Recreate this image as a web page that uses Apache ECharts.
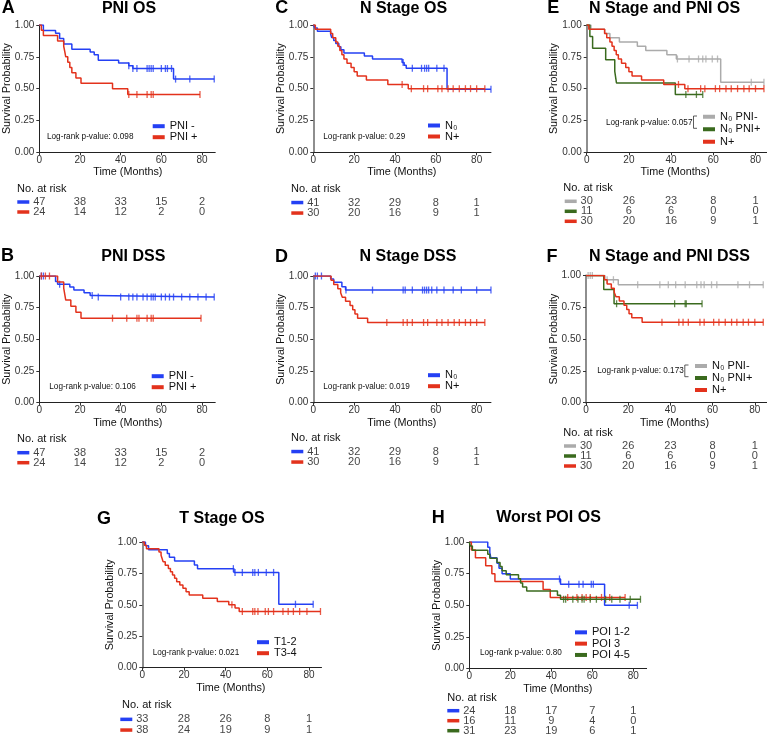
<!DOCTYPE html>
<html>
<head>
<meta charset="utf-8">
<script src="https://cdn.jsdelivr.net/npm/echarts@6.0.0/dist/echarts.min.js"></script>
<style>html,body{margin:0;padding:0;background:#fff;}#chart{width:767px;height:736px;}</style>
</head>
<body>
<div id="chart"></div>
<script>
// ===================== DATA =====================
const xTickValues = [0, 20, 40, 60, 80];
const riskTimes = [0, 20, 40, 60, 80];
const panelTitles = ['PNI OS', 'PNI DSS', 'N Stage OS', 'N Stage DSS', 'N Stage and PNI OS', 'N Stage and PNI DSS', 'T Stage OS', 'Worst POI OS'];
const panelLetters = ['A', 'B', 'C', 'D', 'E', 'F', 'G', 'H'];
const pValues = ['0.098', '0.106', '0.29', '0.019', '0.057', '0.173', '0.021', '0.80'];

// A: PNI OS
const pniNegOS_t = [0, 2, 8, 10, 12, 16, 25, 27, 29, 39, 44, 46, 66];
const pniNegOS_s = [1, 0.957, 0.936, 0.894, 0.851, 0.809, 0.787, 0.766, 0.723, 0.702, 0.68, 0.658, 0.575];
const pniNegOS_cens = [44, 46, 48, 53, 54, 55, 56, 60, 62, 63, 65, 67, 74, 86];
const pniPosOS_t = [0, 1, 2, 9, 12, 12.5, 13, 14, 15, 16, 18, 20.5, 36, 43.5];
const pniPosOS_s = [1, 0.958, 0.917, 0.875, 0.833, 0.792, 0.75, 0.708, 0.667, 0.625, 0.583, 0.542, 0.5, 0.455];
const pniPosOS_cens = [44, 48, 53, 55, 56, 79];

// B: PNI DSS
const pniNegDSS_t = [0, 8, 9, 15, 17, 22, 25, 27];
const pniNegDSS_s = [1, 0.957, 0.935, 0.913, 0.89, 0.868, 0.846, 0.834];
const pniNegDSS_cens = [1, 2, 10, 26, 29, 40, 44, 46, 48, 51, 53, 55, 56, 57, 60, 62, 64, 66, 70, 74, 78, 82, 86];
const pniPosDSS_t = [0, 9, 12, 12.5, 13, 15.5, 18, 20.5];
const pniPosDSS_s = [1, 0.952, 0.905, 0.857, 0.81, 0.762, 0.714, 0.667];
const pniPosDSS_cens = [1, 3, 5, 36, 43, 48, 49, 53, 55, 56, 79.5];

// C: N stage OS
const n0OS_t = [0, 0.8, 2, 8.5, 9, 10, 11, 12.5, 13.5, 15, 25, 29, 43.5, 44.5, 45.5, 65.5];
const n0OS_s = [1, 0.976, 0.951, 0.927, 0.902, 0.878, 0.854, 0.829, 0.805, 0.78, 0.756, 0.732, 0.705, 0.683, 0.66, 0.495];
const n0OS_cens = [44, 48.5, 53, 54.5, 55.5, 56.5, 60.5, 64, 87];
const nPlusOS_t = [0, 1, 8.5, 9.5, 11, 12, 13, 14, 15, 16.5, 18.5, 20, 21.5, 26, 36.5, 46.5];
const nPlusOS_s = [1, 0.967, 0.933, 0.9, 0.867, 0.833, 0.8, 0.767, 0.733, 0.7, 0.667, 0.633, 0.6, 0.567, 0.533, 0.5];
const nPlusOS_cens = [43.5, 48, 54, 56, 61, 63, 66, 68.5, 71.5, 74.5, 77, 80, 84];

// D: N stage DSS
const n0DSS_t = [0, 8.5, 10, 14, 15.8];
const n0DSS_s = [1, 0.976, 0.951, 0.915, 0.889];
const n0DSS_cens = [1, 2, 4, 16, 29, 44, 45, 48.5, 53.5, 54.5, 55.5, 56.5, 58, 60.5, 64, 68.5, 72.5, 80, 87];
const nPlusDSS_t = [0, 8.7, 10, 12, 13.4, 14.2, 15.8, 18, 19.3, 20.4, 21.7, 26.6];
const nPlusDSS_s = [1, 0.967, 0.933, 0.9, 0.867, 0.833, 0.8, 0.767, 0.733, 0.7, 0.667, 0.633];
const nPlusDSS_cens = [36, 44, 46, 48.5, 54, 56, 60.5, 63, 66, 69, 71.5, 74.5, 77, 80, 84];

// E: N stage and PNI OS
const n0PniNegOS_t = [0, 2, 8.5, 11, 15.5, 24, 28, 38, 42.5, 63.5];
const n0PniNegOS_s = [1, 0.967, 0.933, 0.9, 0.867, 0.833, 0.8, 0.767, 0.733, 0.55];
const n0PniNegOS_cens = [43, 48.5, 53, 55, 56.5, 59.5, 62, 78, 84];
const n0PniPosOS_t = [0, 1.5, 2.8, 9, 13.3, 14.1, 42];
const n0PniPosOS_s = [1, 0.909, 0.818, 0.727, 0.636, 0.545, 0.4545];
const n0PniPosOS_cens = [47, 52, 55];

// F: N stage and PNI DSS
const n0PniNegDSS_t = [0, 8.9, 15.3];
const n0PniNegDSS_s = [1, 0.967, 0.927];
const n0PniNegDSS_cens = [1, 2, 3, 10, 13, 24.5, 35, 39, 42.5, 47, 52.5, 54.5, 56, 59.5, 62, 72, 77.5, 84];
const n0PniPosDSS_t = [0, 8.4, 13.3];
const n0PniPosDSS_s = [1, 0.889, 0.778];
const n0PniPosDSS_cens = [14.5, 42, 47, 47.5, 55];

// G: T stage OS
const t12OS_t = [0, 1.5, 3, 12, 13, 15.5, 25, 26.5, 44, 65.5];
const t12OS_s = [1, 0.97, 0.939, 0.909, 0.879, 0.848, 0.818, 0.788, 0.758, 0.505];
const t12OS_cens = [43.7, 44.5, 48, 53, 54, 55.7, 59.5, 63, 73.5, 82];
const t34OS_t = [0, 1, 2, 8, 9, 9.5, 10, 11, 12.5, 13.5, 14.5, 15.5, 16.5, 18, 19.5, 21, 22.5, 29, 36, 41.5, 44.5, 46.5];
const t34OS_s = [1, 0.974, 0.947, 0.921, 0.895, 0.868, 0.842, 0.816, 0.789, 0.763, 0.737, 0.711, 0.684, 0.658, 0.632, 0.605, 0.579, 0.553, 0.526, 0.5, 0.474, 0.447];
const t34OS_cens = [43, 48, 53, 54, 55.5, 59, 60.5, 63, 67.5, 70, 72.5, 75.5, 79, 85.5];

// H: Worst POI OS
const poi12OS_t = [0, 9, 10, 10.5, 13.5, 14.5, 16, 20, 44.5, 66];
const poi12OS_s = [1, 0.958, 0.917, 0.875, 0.833, 0.792, 0.75, 0.708, 0.667, 0.5];
const poi12OS_cens = [44, 48.5, 53.5, 55.5, 59.5, 60.5, 78, 82];
const poi3OS_t = [0, 1, 3, 8, 11, 12.5, 36, 39.5];
const poi3OS_s = [1, 0.9375, 0.875, 0.8125, 0.75, 0.6875, 0.625, 0.5625];
const poi3OS_cens = [48, 52.5, 55, 57, 59, 64.5, 68.5, 76];
const poi45OS_t = [0, 0.5, 1.5, 9, 10, 13.5, 15, 16, 18, 24, 25, 26, 28, 43, 44.5];
const poi45OS_s = [1, 0.968, 0.935, 0.903, 0.871, 0.839, 0.806, 0.774, 0.742, 0.71, 0.677, 0.645, 0.613, 0.58, 0.548];
const poi45OS_cens = [46, 47, 50.5, 53, 55, 56, 59, 62, 66.5, 69.5, 73.5, 78.5, 83.5];

// Numbers at risk (at 0, 20, 40, 60, 80 months)
const riskPniNeg = [47, 38, 33, 15, 2];
const riskPniPos = [24, 14, 12, 2, 0];
const riskN0 = [41, 32, 29, 8, 1];
const riskNPlus = [30, 20, 16, 9, 1];
const riskN0PniNeg = [30, 26, 23, 8, 1];
const riskN0PniPos = [11, 6, 6, 0, 0];
const riskT12 = [33, 28, 26, 8, 1];
const riskT34 = [38, 24, 19, 9, 1];
const riskPoi12 = [24, 18, 17, 7, 1];
const riskPoi3 = [16, 11, 9, 4, 0];
const riskPoi45 = [31, 23, 19, 6, 1];

// ===================== STYLE / LAYOUT =====================
const BLUE = '#2440f4', RED = '#e3321c', GREY = '#ababab', GREEN = '#3a6a1e';
const FONT = '"Liberation Sans", Arial, Helvetica, sans-serif';

function curve(name, t, s, cens, risk, color) { return { name, t, s, cens, risk, color }; }

const panels = [
  { left: 39.3, top: 25, h: 127.3, ppm: 2.034, xMax: 86.5, greyAxis: false,
    titleX: 129, titleY: 8.7, letterX: 8.3, letterY: 8.5, pX: 47, pY: 136.7,
    legLeft: 152.7, legTop: 120.7, legGap: 10.7, riskTop: 197, riskRow: 10, noRiskX: 17, noRiskY: 189,
    curves: [curve('PNI -', pniNegOS_t, pniNegOS_s, pniNegOS_cens, riskPniNeg, BLUE),
             curve('PNI +', pniPosOS_t, pniPosOS_s, pniPosOS_cens, riskPniPos, RED)] },
  { left: 39.3, top: 276, h: 126.7, ppm: 2.034, xMax: 86.5, greyAxis: false,
    titleX: 133.3, titleY: 256.5, letterX: 7.5, letterY: 256.5, pX: 49.3, pY: 386.7,
    legLeft: 151.7, legTop: 370.7, legGap: 10.7, riskTop: 447.7, riskRow: 10, noRiskX: 17, noRiskY: 439.3,
    curves: [curve('PNI -', pniNegDSS_t, pniNegDSS_s, pniNegDSS_cens, riskPniNeg, BLUE),
             curve('PNI +', pniPosDSS_t, pniPosDSS_s, pniPosDSS_cens, riskPniPos, RED)] },
  { left: 313.3, top: 25, h: 127.3, ppm: 2.042, xMax: 87, greyAxis: true,
    titleX: 403.5, titleY: 8.7, letterX: 281.7, letterY: 8.5, pX: 323.3, pY: 136.7,
    legLeft: 428, legTop: 120, legGap: 10.7, riskTop: 197.3, riskRow: 10.5, noRiskX: 291, noRiskY: 189,
    curves: [curve('N\u2080', n0OS_t, n0OS_s, n0OS_cens, riskN0, BLUE),
             curve('N+', nPlusOS_t, nPlusOS_s, nPlusOS_cens, riskNPlus, RED)] },
  { left: 313.3, top: 276, h: 126.7, ppm: 2.042, xMax: 87, greyAxis: true,
    titleX: 408, titleY: 256.5, letterX: 281.5, letterY: 257, pX: 323.3, pY: 386.7,
    legLeft: 428, legTop: 369.7, legGap: 10.7, riskTop: 446.3, riskRow: 10.5, noRiskX: 291, noRiskY: 438.3,
    curves: [curve('N\u2080', n0DSS_t, n0DSS_s, n0DSS_cens, riskN0, BLUE),
             curve('N+', nPlusDSS_t, nPlusDSS_s, nPlusDSS_cens, riskNPlus, RED)] },
  { left: 586.7, top: 25, h: 127.3, ppm: 2.11, xMax: 87, greyAxis: true,
    titleX: 664.5, titleY: 8.7, letterX: 553.3, letterY: 8.5, pX: 606, pY: 122.7,
    legLeft: 703, legTop: 110.5, legGap: 12.5, riskTop: 196.3, riskRow: 10, noRiskX: 563.3, noRiskY: 188.3,
    bracket: [[697, 116], [693.5, 116], [693.5, 128.3], [697, 128.3]],
    curves: [curve('N\u2080 PNI-', n0PniNegOS_t, n0PniNegOS_s, n0PniNegOS_cens, riskN0PniNeg, GREY),
             curve('N\u2080 PNI+', n0PniPosOS_t, n0PniPosOS_s, n0PniPosOS_cens, riskN0PniPos, GREEN),
             curve('N+', nPlusOS_t, nPlusOS_s, nPlusOS_cens, riskNPlus, RED)] },
  { left: 586, top: 275.5, h: 127.2, ppm: 2.11, xMax: 87, greyAxis: true,
    titleX: 669.5, titleY: 256.5, letterX: 552, letterY: 257.5, pX: 597.3, pY: 371,
    legLeft: 695, legTop: 360, legGap: 12, riskTop: 441, riskRow: 10, noRiskX: 563.3, noRiskY: 432.7,
    bracket: [[688.5, 365], [684.8, 365], [684.8, 376.7], [688.5, 376.7]],
    curves: [curve('N\u2080 PNI-', n0PniNegDSS_t, n0PniNegDSS_s, n0PniNegDSS_cens, riskN0PniNeg, GREY),
             curve('N\u2080 PNI+', n0PniPosDSS_t, n0PniPosDSS_s, n0PniPosDSS_cens, riskN0PniPos, GREEN),
             curve('N+', nPlusDSS_t, nPlusDSS_s, nPlusDSS_cens, riskNPlus, RED)] },
  { left: 142.3, top: 542, h: 125.7, ppm: 2.084, xMax: 86, greyAxis: true,
    titleX: 222, titleY: 518.5, letterX: 104, letterY: 519, pX: 152.7, pY: 652.7,
    legLeft: 257, legTop: 636.7, legGap: 10.7, riskTop: 714, riskRow: 10.7, noRiskX: 122, noRiskY: 705.3,
    curves: [curve('T1-2', t12OS_t, t12OS_s, t12OS_cens, riskT12, BLUE),
             curve('T3-4', t34OS_t, t34OS_s, t34OS_cens, riskT34, RED)] },
  { left: 469.3, top: 542, h: 126.7, ppm: 2.05, xMax: 86.5, greyAxis: false,
    titleX: 548.5, titleY: 518, letterX: 438.3, letterY: 518.3, pX: 480, pY: 652.7,
    legLeft: 575, legTop: 626.7, legGap: 11.3, riskTop: 705.7, riskRow: 10, noRiskX: 447.3, noRiskY: 697.7,
    curves: [curve('POI 1-2', poi12OS_t, poi12OS_s, poi12OS_cens, riskPoi12, BLUE),
             curve('POI 3', poi3OS_t, poi3OS_s, poi3OS_cens, riskPoi3, RED),
             curve('POI 4-5', poi45OS_t, poi45OS_s, poi45OS_cens, riskPoi45, GREEN)] }
];

function survAt(ts, ss, t) {
  let v = ss[0];
  for (let i = 0; i < ts.length; i++) if (ts[i] <= t) v = ss[i];
  return v;
}

// ===================== BUILD OPTION =====================
const option = { animation: false, backgroundColor: '#ffffff', grid: [], xAxis: [], yAxis: [], series: [], legend: [], graphic: [] };

function txt(x, y, text, font, align, color, rotation) {
  return { type: 'text', x, y, rotation: rotation || 0, silent: true,
    style: { text, font, fill: color || '#111', textAlign: align || 'left', textVerticalAlign: 'middle', verticalAlign: 'middle' } };
}

panels.forEach((p, pi) => {
  const width = p.ppm * p.xMax;
  const id = panelLetters[pi];
  // ---- plot grid ----
  const gi = option.grid.length;
  option.grid.push({ left: p.left, top: p.top, width, height: p.h, containLabel: false, outerBoundsMode: 'none' });
  option.xAxis.push({
    type: 'value', gridIndex: gi, min: 0, max: p.xMax, interval: 20,
    axisLine: { show: true, onZero: false, lineStyle: { color: '#222', width: 1 } },
    axisTick: { show: true, length: 3, customValues: xTickValues, lineStyle: { color: '#333', width: 1 } },
    axisLabel: { show: true, customValues: xTickValues, margin: 3, fontSize: 10, color: '#333', fontFamily: FONT },
    splitLine: { show: false }
  });
  option.yAxis.push({
    type: 'value', gridIndex: gi, min: 0, max: 1, interval: 0.25,
    axisLine: { show: true, onZero: false, lineStyle: { color: p.greyAxis ? '#8e8e8e' : '#222', width: p.greyAxis ? 2 : 1 } },
    axisTick: { show: true, length: 3, lineStyle: { color: '#333', width: 1 } },
    axisLabel: { margin: 5, fontSize: 10, color: '#333', fontFamily: FONT, formatter: v => v.toFixed(2) },
    splitLine: { show: false }
  });
  p.curves.forEach((c, ci) => {
    const sName = id + '|' + c.name;
    const pts = c.t.map((t, k) => [t, c.s[k]]);
    const endT = Math.max(c.t[c.t.length - 1], Math.max.apply(null, c.cens));
    pts.push([endT, c.s[c.s.length - 1]]);
    option.series.push({
      type: 'line', name: sName, xAxisIndex: gi, yAxisIndex: gi, data: pts, step: 'end',
      showSymbol: false, symbol: 'none', z: 3 + ci,
      lineStyle: { color: c.color, width: 1.5 }, itemStyle: { color: c.color }
    });
    option.series.push({
      type: 'scatter', name: sName + ' censored', xAxisIndex: gi, yAxisIndex: gi, z: 3 + ci,
      data: c.cens.map(t => [t, survAt(c.t, c.s, t)]),
      symbol: 'rect', symbolSize: [1.3, 7], itemStyle: { color: c.color }, silent: true
    });
  });
  option.legend.push({
    orient: 'vertical', left: p.legLeft, top: p.legTop, padding: 0, itemGap: 0,
    itemWidth: 12, itemHeight: 4, icon: 'rect', selectedMode: false,
    data: p.curves.map(c => id + '|' + c.name),
    formatter: n => n.split('|')[1],
    textStyle: { fontSize: 11, color: '#111', fontFamily: FONT, lineHeight: p.legGap }
  });

  // ---- risk table grid ----
  const rg = option.grid.length;
  option.grid.push({ left: p.left, top: p.riskTop, width, height: p.riskRow * p.curves.length, containLabel: false, outerBoundsMode: 'none' });
  option.xAxis.push({ type: 'value', gridIndex: rg, min: 0, max: p.xMax, show: false });
  const rich = {};
  p.curves.forEach((c, ci) => { rich['c' + ci] = { backgroundColor: c.color, width: 12, height: 3.5 }; });
  option.yAxis.push({
    type: 'category', gridIndex: rg, inverse: true, data: p.curves.map((c, ci) => String(ci)),
    axisLine: { show: false }, axisTick: { show: false }, splitLine: { show: false },
    axisLabel: { interval: 0, margin: 10, formatter: v => '{c' + v + '| }', rich }
  });
  p.curves.forEach((c, ci) => {
    option.series.push({
      type: 'scatter', name: id + '|risk' + ci, xAxisIndex: rg, yAxisIndex: rg, silent: true,
      data: riskTimes.map((t, k) => [t, ci, c.risk[k]]),
      symbolSize: 1, itemStyle: { color: 'rgba(0,0,0,0)' },
      label: { show: true, position: 'inside', formatter: q => String(q.value[2]), fontSize: 11, color: '#111', fontFamily: FONT }
    });
  });

  // ---- texts ----
  option.graphic.push(txt(p.letterX, p.letterY, id, 'bold 18px ' + FONT, 'center', '#000'));
  option.graphic.push(txt(p.titleX, p.titleY, panelTitles[pi], 'bold 16px ' + FONT, 'center', '#000'));
  option.graphic.push(txt(p.left - 32.3, p.top + p.h / 2, 'Survival Probability', '10.7px ' + FONT, 'center', '#111', Math.PI / 2));
  option.graphic.push(txt(p.left + 88.5, p.top + p.h + 20, 'Time (Months)', '10.8px ' + FONT, 'center', '#111'));
  option.graphic.push(txt(p.noRiskX, p.noRiskY, 'No. at risk', '11px ' + FONT, 'left', '#111'));
  option.graphic.push(txt(p.pX, p.pY, 'Log-rank p-value: ' + pValues[pi], '8.2px ' + FONT, 'left', '#111'));
  if (p.bracket) {
    option.graphic.push({ type: 'polyline', silent: true, shape: { points: p.bracket }, style: { stroke: '#333', lineWidth: 0.8, fill: null } });
  }
});

const chart = echarts.init(document.getElementById('chart'), null, { renderer: 'canvas' });
chart.setOption(option);
</script>
</body>
</html>
